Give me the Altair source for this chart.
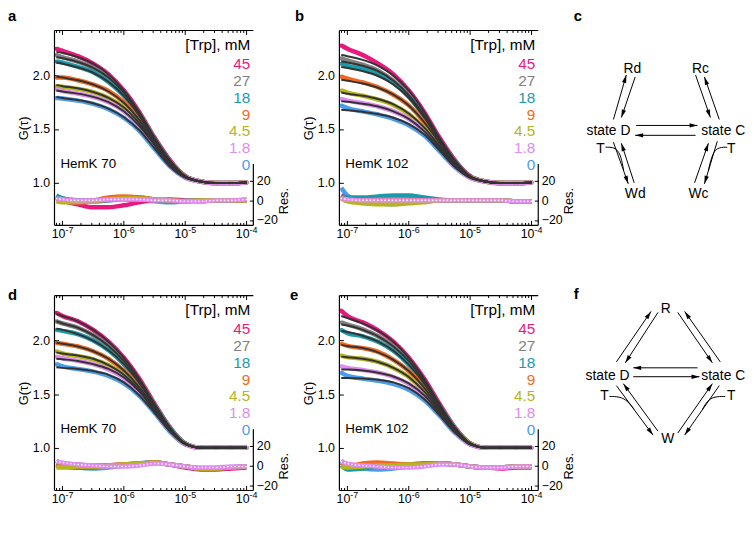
import altair as alt
import pandas as pd

FONT = "Liberation Sans"

# ---------------- data ----------------
LOG_TAU = [-7.1, -7.0, -6.75, -6.5, -6.25, -6.0, -5.75, -5.5, -5.25, -5.0, -4.75, -4.5, -4.25, -4.0]
CONC = ["45", "27", "18", "9", "4.5", "1.8", "0"]
CONC_COLORS = ["#E8197E", "#808080", "#1B9AAA", "#F26A21", "#B5B51C", "#E08BEF", "#4C9DE8"]
DRAW_ORDER = ["0", "45", "27", "18", "9", "4.5", "1.8"]
FIT_COLOR = "#333333"

MAJOR_TICKS = [1e-7, 1e-6, 1e-5, 1e-4]
MAJOR_EXP = ["-7", "-6", "-5", "-4"]
MINOR_MULT = [2, 3, 4, 5, 6, 7, 8, 9]
MINOR_DECADES = [-8, -7, -6, -5]
G_TICKS = [1.0, 1.5, 2.0]
RES_TICKS = [-20, 0, 20]

# panel a  (HemK 70)
A_FIT = {
    "45": [2.22, 2.21, 2.17, 2.11, 2.01, 1.86, 1.66, 1.42, 1.21, 1.06, 1.01, 0.995, 0.995, 1.0],
    "27": [2.17, 2.16, 2.125, 2.07, 1.98, 1.84, 1.645, 1.41, 1.20, 1.06, 1.01, 0.995, 0.995, 1.0],
    "18": [2.12, 2.11, 2.075, 2.025, 1.94, 1.81, 1.625, 1.40, 1.195, 1.055, 1.01, 0.995, 0.995, 1.0],
    "9": [1.99, 1.98, 1.955, 1.915, 1.85, 1.745, 1.585, 1.38, 1.185, 1.055, 1.01, 0.995, 0.995, 1.0],
    "4.5": [1.91, 1.90, 1.88, 1.845, 1.79, 1.70, 1.555, 1.365, 1.175, 1.05, 1.01, 0.995, 0.995, 1.0],
    "1.8": [1.86, 1.85, 1.83, 1.80, 1.75, 1.665, 1.53, 1.35, 1.165, 1.05, 1.01, 0.995, 0.995, 1.0],
    "0": [1.80, 1.79, 1.77, 1.74, 1.69, 1.61, 1.49, 1.32, 1.15, 1.045, 1.01, 0.995, 0.995, 1.0],
}
A_OBS = {
    "45": [2.25, 2.23, 2.18, 2.11, 2.01, 1.86, 1.66, 1.42, 1.21, 1.06, 1.01, 0.995, 0.995, 1.0],
    "27": [2.19, 2.17, 2.13, 2.07, 1.98, 1.84, 1.645, 1.41, 1.20, 1.06, 1.01, 0.995, 0.995, 1.0],
    "18": [2.13, 2.12, 2.08, 2.03, 1.94, 1.81, 1.63, 1.40, 1.195, 1.055, 1.01, 0.995, 0.995, 1.0],
    "9": [1.98, 1.98, 1.955, 1.915, 1.855, 1.75, 1.59, 1.385, 1.185, 1.055, 1.01, 0.995, 0.995, 1.0],
    "4.5": [1.90, 1.895, 1.875, 1.845, 1.79, 1.70, 1.555, 1.365, 1.175, 1.05, 1.01, 0.995, 0.995, 1.0],
    "1.8": [1.87, 1.855, 1.83, 1.80, 1.75, 1.665, 1.53, 1.35, 1.165, 1.05, 1.01, 0.995, 0.995, 1.0],
    "0": [1.79, 1.785, 1.765, 1.735, 1.685, 1.605, 1.485, 1.315, 1.15, 1.045, 1.01, 0.995, 0.995, 1.0],
}
A_RES = {
    "45": [3, 0, -4, -7, -7, -5, -2, 0, 1, 0, -1, 0, 0, 0],
    "27": [4, 2, 0, -1, 0, 2, 1, 0, -1, 0, 0, 0, 0, 0],
    "18": [5, 2, 0, 0, 1, 3, 3, 1, -1, -1, 0, 0, 0, 0],
    "9": [2, 0, -1, 0, 3, 4, 3, 1, 0, -1, 0, 0, 0, 0],
    "4.5": [-1, -2, -2, -1, 1, 2, 2, 1, 0, -1, 0, 0, 0, 0],
    "1.8": [2, 1, 0, 0, 1, 1, 1, 0, 0, -1, -1, 0, 0, 1],
    "0": [4, 1, -1, -1, 0, 1, 0, -1, -2, -1, 0, 0, 0, 1],
}

# panel b  (HemK 102)
B_FIT = {
    "45": [2.19, 2.18, 2.145, 2.09, 2.00, 1.86, 1.66, 1.42, 1.21, 1.06, 1.01, 0.995, 0.995, 1.0],
    "27": [2.13, 2.12, 2.09, 2.04, 1.95, 1.815, 1.625, 1.40, 1.20, 1.055, 1.01, 0.995, 0.995, 1.0],
    "18": [2.08, 2.07, 2.04, 1.995, 1.915, 1.79, 1.61, 1.39, 1.195, 1.055, 1.01, 0.995, 0.995, 1.0],
    "9": [1.96, 1.95, 1.925, 1.885, 1.82, 1.72, 1.565, 1.37, 1.18, 1.05, 1.01, 0.995, 0.995, 1.0],
    "4.5": [1.84, 1.83, 1.81, 1.78, 1.73, 1.645, 1.515, 1.34, 1.165, 1.05, 1.01, 0.995, 0.995, 1.0],
    "1.8": [1.76, 1.755, 1.735, 1.71, 1.665, 1.595, 1.48, 1.32, 1.155, 1.045, 1.01, 0.995, 0.995, 1.0],
    "0": [1.68, 1.675, 1.66, 1.64, 1.605, 1.545, 1.45, 1.30, 1.145, 1.045, 1.01, 0.995, 0.995, 1.0],
}
B_OBS = {
    "45": [2.28, 2.25, 2.19, 2.11, 2.01, 1.86, 1.66, 1.42, 1.21, 1.06, 1.01, 0.995, 0.995, 1.0],
    "27": [2.16, 2.14, 2.10, 2.045, 1.95, 1.815, 1.625, 1.40, 1.20, 1.055, 1.01, 0.995, 0.995, 1.0],
    "18": [2.11, 2.09, 2.06, 2.01, 1.93, 1.80, 1.615, 1.39, 1.195, 1.055, 1.01, 0.995, 0.995, 1.0],
    "9": [1.99, 1.97, 1.935, 1.89, 1.82, 1.72, 1.565, 1.37, 1.18, 1.05, 1.01, 0.995, 0.995, 1.0],
    "4.5": [1.86, 1.84, 1.81, 1.775, 1.725, 1.64, 1.51, 1.34, 1.165, 1.05, 1.01, 0.995, 0.995, 1.0],
    "1.8": [1.78, 1.765, 1.74, 1.71, 1.665, 1.595, 1.48, 1.32, 1.155, 1.045, 1.01, 0.995, 0.995, 1.0],
    "0": [1.72, 1.695, 1.665, 1.635, 1.595, 1.535, 1.44, 1.295, 1.145, 1.045, 1.01, 0.995, 0.995, 1.0],
}
B_RES = {
    "45": [5, 2, 0, 0, 0, 1, 0, 0, 0, 0, 0, 0, -1, -1],
    "27": [3, 1, 0, 0, 0, 0, 0, 0, 0, 0, 0, 0, -1, -1],
    "18": [4, 3, 3, 4, 5, 5, 3, 1, 0, 0, 0, 0, -1, -1],
    "9": [2, 0, 0, 1, 1, 1, 0, 0, 0, 0, 0, 0, -1, -1],
    "4.5": [3, -1, -3, -4, -4, -3, -2, 0, 0, 0, 0, 0, -1, -1],
    "1.8": [2, 1, 0, 0, 0, 0, 0, 0, 0, 0, 0, 0, -1, -1],
    "0": [13, 5, -2, -3, -4, -2, -1, 0, 0, 0, 0, 0, -1, -1],
}

# panel d  (HemK 70, model 2)
D_FIT = {
    "45": [2.25, 2.23, 2.18, 2.10, 1.99, 1.84, 1.645, 1.41, 1.19, 1.04, 1.0, 1.0, 1.0, 1.0],
    "27": [2.18, 2.16, 2.12, 2.05, 1.95, 1.81, 1.625, 1.40, 1.185, 1.04, 1.0, 1.0, 1.0, 1.0],
    "18": [2.11, 2.10, 2.06, 2.00, 1.91, 1.78, 1.605, 1.39, 1.18, 1.04, 1.0, 1.0, 1.0, 1.0],
    "9": [1.98, 1.97, 1.945, 1.90, 1.83, 1.72, 1.565, 1.37, 1.17, 1.035, 1.0, 1.0, 1.0, 1.0],
    "4.5": [1.89, 1.88, 1.86, 1.83, 1.77, 1.68, 1.54, 1.355, 1.165, 1.035, 1.0, 1.0, 1.0, 1.0],
    "1.8": [1.83, 1.825, 1.81, 1.78, 1.735, 1.655, 1.525, 1.345, 1.16, 1.035, 1.0, 1.0, 1.0, 1.0],
    "0": [1.75, 1.745, 1.735, 1.715, 1.68, 1.61, 1.49, 1.325, 1.15, 1.03, 1.0, 1.0, 1.0, 1.0],
}
D_OBS = {
    "45": [2.26, 2.23, 2.18, 2.10, 1.99, 1.84, 1.645, 1.41, 1.19, 1.04, 1.0, 1.0, 1.0, 1.0],
    "27": [2.18, 2.16, 2.12, 2.05, 1.95, 1.81, 1.625, 1.40, 1.185, 1.04, 1.0, 1.0, 1.0, 1.0],
    "18": [2.10, 2.09, 2.06, 2.00, 1.91, 1.78, 1.605, 1.39, 1.18, 1.04, 1.0, 1.0, 1.0, 1.0],
    "9": [1.98, 1.97, 1.945, 1.90, 1.83, 1.72, 1.565, 1.37, 1.17, 1.035, 1.0, 1.0, 1.0, 1.0],
    "4.5": [1.90, 1.88, 1.855, 1.825, 1.77, 1.68, 1.54, 1.355, 1.165, 1.035, 1.0, 1.0, 1.0, 1.0],
    "1.8": [1.85, 1.835, 1.81, 1.78, 1.73, 1.65, 1.52, 1.345, 1.16, 1.035, 1.0, 1.0, 1.0, 1.0],
    "0": [1.78, 1.76, 1.735, 1.71, 1.67, 1.60, 1.485, 1.325, 1.15, 1.03, 1.0, 1.0, 1.0, 1.0],
}
D_RES = {
    "45": [1, -1, -2, -2, 0, 1, 2, 3, 1, -2, -4, -4, -3, -2],
    "27": [3, 2, 1, 0, 0, 1, 2, 3, 1, -1, -3, -3, -2, -1],
    "18": [2, 0, -2, -2, -1, 0, 2, 3, 1, -1, -3, -3, -2, -1],
    "9": [0, -1, -1, -1, 0, 1, 2, 3, 1, -1, -3, -3, -2, -1],
    "4.5": [-2, -2, -1, -1, 0, 1, 2, 3, 1, -1, -3, -3, -2, -1],
    "1.8": [4, 3, 1, 0, -1, -1, 0, 2, 1, -1, -2, -2, -1, -1],
    "0": [5, 1, -2, -3, -2, 0, 2, 3, 1, -1, -3, -3, -2, -1],
}

# panel e  (HemK 102, model 2)
E_FIT = {
    "45": [2.23, 2.21, 2.16, 2.09, 1.99, 1.84, 1.645, 1.41, 1.19, 1.04, 1.0, 1.0, 1.0, 1.0],
    "27": [2.15, 2.14, 2.10, 2.04, 1.945, 1.81, 1.62, 1.395, 1.185, 1.04, 1.0, 1.0, 1.0, 1.0],
    "18": [2.09, 2.08, 2.045, 1.99, 1.905, 1.775, 1.60, 1.385, 1.18, 1.04, 1.0, 1.0, 1.0, 1.0],
    "9": [1.96, 1.95, 1.93, 1.89, 1.82, 1.715, 1.56, 1.365, 1.17, 1.035, 1.0, 1.0, 1.0, 1.0],
    "4.5": [1.85, 1.845, 1.83, 1.80, 1.745, 1.66, 1.525, 1.345, 1.16, 1.035, 1.0, 1.0, 1.0, 1.0],
    "1.8": [1.73, 1.73, 1.72, 1.70, 1.665, 1.60, 1.49, 1.325, 1.15, 1.03, 1.0, 1.0, 1.0, 1.0],
    "0": [1.65, 1.65, 1.645, 1.635, 1.61, 1.555, 1.455, 1.305, 1.14, 1.03, 1.0, 1.0, 1.0, 1.0],
}
E_OBS = {
    "45": [2.28, 2.23, 2.17, 2.095, 1.99, 1.84, 1.645, 1.41, 1.19, 1.04, 1.0, 1.0, 1.0, 1.0],
    "27": [2.17, 2.15, 2.105, 2.04, 1.945, 1.81, 1.62, 1.395, 1.185, 1.04, 1.0, 1.0, 1.0, 1.0],
    "18": [2.10, 2.07, 2.04, 1.99, 1.905, 1.775, 1.60, 1.385, 1.18, 1.04, 1.0, 1.0, 1.0, 1.0],
    "9": [1.97, 1.95, 1.93, 1.895, 1.82, 1.715, 1.56, 1.365, 1.17, 1.035, 1.0, 1.0, 1.0, 1.0],
    "4.5": [1.86, 1.845, 1.83, 1.80, 1.745, 1.66, 1.525, 1.345, 1.16, 1.035, 1.0, 1.0, 1.0, 1.0],
    "1.8": [1.76, 1.745, 1.725, 1.70, 1.66, 1.595, 1.485, 1.325, 1.15, 1.03, 1.0, 1.0, 1.0, 1.0],
    "0": [1.70, 1.67, 1.645, 1.625, 1.595, 1.54, 1.445, 1.30, 1.14, 1.03, 1.0, 1.0, 1.0, 1.0],
}
E_RES = {
    "45": [3, 1, 0, 0, 1, 1, 2, 2, 1, -1, -2, -3, -2, -2],
    "27": [2, 0, -1, 0, 1, 1, 2, 2, 1, -1, -2, -2, -1, -1],
    "18": [0, -4, -3, -1, 0, 0, 1, 2, 1, -1, -2, -2, -1, -1],
    "9": [3, -1, 2, 3, 2, 1, 1, 2, 1, -1, -2, -2, -1, -1],
    "4.5": [-1, -2, -1, 0, 0, 1, 1, 2, 1, -1, -2, -2, -1, -1],
    "1.8": [4, 2, 0, -1, -2, -2, -1, 1, 1, -1, -2, -2, -1, -1],
    "0": [5, 0, -3, -4, -3, -1, 0, 2, 1, -1, -2, -2, -1, -1],
}

# kinetic schemes (diagram units, origin at "state D")
C_NODES = [("Rd", 24, -63), ("Rc", 93, -63), ("state D", 0, 0), ("state C", 116, 0),
           ("T", -8, 18), ("T", 124, 18), ("Wd", 27, 63), ("Wc", 91, 63)]
C_ARROWS = [(5, -12, 18, -57), (27, -55, 13, -14), (88, -57, 103, -14), (112, -12, 97, -55),
            (28, -6, 90, -6), (88, 4, 27, 4), (5, 11, 20, 53), (26, 52, 13, 12),
            (87, 52, 101, 12), (110, 10, 97, 53)]
C_CURVES = [[(-3, 16), (8, 16), (13, 26), (15.4, 40)],
            [(120, 16), (109, 16), (104, 26), (100.9, 40)]]

F_NODES = [("R", 59, -67), ("state D", 0, 0), ("state C", 117, 0), ("W", 61, 64),
           ("T", -3, 21), ("T", 125, 21)]
F_ARROWS = [(9, -14, 44, -65), (51, -64, 18, -13), (71, -64, 106, -13), (114, -14, 78, -65),
            (91, -8, 26, -8), (26, 1, 93, 1), (9, 10, 46, 60), (51, 56, 16, 8),
            (71, 58, 106, 8), (113, 10, 78, 60)]
F_CURVES = [[(2, 21), (12, 21), (20, 25), (27, 34)],
            [(119, 21), (108, 21), (101, 25), (96, 34)]]

# ---------------- layout / style ----------------
W, H = 201, 197
X_DOMAIN = [10 ** -7.13, 10 ** -3.89]
G_DOMAIN = [0.6, 2.42]
R_DOMAIN = [-25.5, 173.5]
ONE = pd.DataFrame({"k": [0]})


def txt(text, x, y, size, align="left", baseline="middle", color="black", weight="normal"):
    return alt.Chart(pd.DataFrame({"t": [text]})).mark_text(
        align=align, baseline=baseline, fontSize=size, font=FONT, color=color, fontWeight=weight
    ).encode(text="t:N", x=alt.value(x), y=alt.value(y))


def fcs_panel(fit, obs, res, name, letter, letter_x, letter_y, title_y):
    rows = []
    for c in DRAW_ORDER:
        for i, lt in enumerate(LOG_TAU):
            rows.append({"conc": c, "tau": 10 ** lt, "fit": fit[c][i], "obs": obs[c][i], "res": res[c][i]})
    df = pd.DataFrame(rows)
    base = alt.Chart(df)
    xsc = alt.Scale(type="log", domain=X_DOMAIN, nice=False)
    gsc = alt.Scale(domain=G_DOMAIN, nice=False, zero=False)
    rsc = alt.Scale(domain=R_DOMAIN, nice=False, zero=False)
    color = alt.Color("conc:N", scale=alt.Scale(domain=CONC, range=CONC_COLORS), legend=None)
    x_axis = alt.Axis(title="τ, s", labels=False, ticks=False, domain=False, grid=False,
                      titleY=title_y, titleBaseline="middle", titleFont=FONT, titleFontSize=13,
                      titleFontWeight="normal", titleColor="black")
    g_axis = alt.Axis(values=G_TICKS, format=".1f", tickSize=4, offset=-4, domain=False, grid=False,
                      labelPadding=5, labelFont=FONT, labelFontSize=12.5, labelColor="black",
                      tickColor="black", title="G(τ)", titleX=-35, titleBaseline="middle",
                      titleFont=FONT, titleFontSize=13, titleFontWeight="normal", titleColor="black")
    r_axis = alt.Axis(orient="right", values=RES_TICKS, tickSize=4, offset=-4, domain=False, grid=False,
                      labelPadding=3, labelFont=FONT, labelFontSize=12.5, labelColor="black",
                      tickColor="black", title="Res.", titleX=35, titleY=172, titleAngle=270,
                      titleBaseline="middle", titleAlign="center", titleFont=FONT, titleFontSize=13,
                      titleFontWeight="normal", titleColor="black")
    xn = alt.X("tau:Q", scale=xsc, axis=None)

    obs_line = base.mark_line(strokeWidth=4.5, interpolate="monotone").encode(
        x=alt.X("tau:Q", scale=xsc, axis=x_axis), y=alt.Y("obs:Q", scale=gsc, axis=g_axis), color=color)
    obs_pts = base.mark_circle(size=16, opacity=1).encode(
        x=xn, y=alt.Y("obs:Q", scale=gsc, axis=g_axis), color=color)
    fit_line = base.mark_line(strokeWidth=2, color=FIT_COLOR, interpolate="monotone").encode(
        x=xn, y=alt.Y("fit:Q", scale=gsc, axis=g_axis), detail="conc:N")
    g_layer = alt.layer(obs_line, obs_pts, fit_line)

    res_line = base.mark_line(strokeWidth=4.5, interpolate="monotone").encode(
        x=xn, y=alt.Y("res:Q", scale=rsc, axis=r_axis), color=color)
    res_dots = base.transform_filter(alt.datum.conc == "1.8").mark_line(
        strokeWidth=1.6, color="white", strokeDash=[0.1, 3.6], strokeCap="round",
        interpolate="monotone").encode(x=xn, y=alt.Y("res:Q", scale=rsc, axis=r_axis))
    r_layer = alt.layer(res_line, res_dots)

    # frame
    frame = alt.Chart(ONE)
    left = frame.mark_rule(color="black", strokeWidth=1.2).encode(
        x=alt.value(0), y=alt.value(0), y2=alt.value(H))
    top = frame.mark_rule(color="black", strokeWidth=1.2).encode(
        x=alt.value(0), x2=alt.value(W), y=alt.value(0))
    bottom = frame.mark_rule(color="black", strokeWidth=1.2).encode(
        x=alt.value(0), x2=alt.value(W), y=alt.value(H))
    right = frame.mark_rule(color="black", strokeWidth=1.2).encode(
        x=alt.value(W), y=alt.value(135), y2=alt.value(H))

    # log ticks (inward) at top and bottom
    maj = pd.DataFrame({"tau": MAJOR_TICKS, "e": MAJOR_EXP})
    minor_vals = [m * 10.0 ** d for d in MINOR_DECADES for m in MINOR_MULT]
    minor_vals = [v for v in minor_vals if X_DOMAIN[0] < v < X_DOMAIN[1]]
    mnr = pd.DataFrame({"tau": minor_vals})
    tk_maj_b = alt.Chart(maj).mark_rule(color="black").encode(x=xn, y=alt.value(H), y2=alt.value(H - 4.5))
    tk_maj_t = alt.Chart(maj).mark_rule(color="black").encode(x=xn, y=alt.value(0), y2=alt.value(4.5))
    tk_min_b = alt.Chart(mnr).mark_rule(color="black").encode(x=xn, y=alt.value(H), y2=alt.value(H - 2.5))
    tk_min_t = alt.Chart(mnr).mark_rule(color="black").encode(x=xn, y=alt.value(0), y2=alt.value(2.5))
    lab10 = alt.Chart(maj).mark_text(align="right", baseline="top", dx=3, fontSize=12.5, font=FONT,
                                     color="black").encode(x=xn, y=alt.value(H + 3), text=alt.value("10"))
    labexp = alt.Chart(maj).mark_text(align="left", baseline="top", dx=3, fontSize=9, font=FONT,
                                      color="black").encode(x=xn, y=alt.value(H + 1), text="e:N")

    # legend
    leg = pd.DataFrame({"label": CONC, "col": CONC_COLORS, "idx": list(range(len(CONC)))})
    legend = alt.Chart(leg).transform_calculate(ly="34 + 17 * datum.idx").mark_text(
        align="right", baseline="middle", fontSize=15.5, font=FONT).encode(
        x=alt.value(W - 3), y=alt.Y("ly:Q", scale=None), text="label:N", color=alt.Color("col:N", scale=None))
    header = txt("[Trp], mM", W - 3, 15, 15.5, align="right")
    hemk = txt(name, 6, 135, 13.5)
    let = txt(letter, letter_x, letter_y, 15, baseline="top", weight="bold")

    return alt.layer(g_layer, r_layer, left, top, bottom, right, tk_maj_b, tk_maj_t, tk_min_b, tk_min_t,
                     lab10, labexp, legend, header, hemk, let).resolve_scale(y="independent").properties(
        width=W, height=H)


def scheme_panel(nodes, arrows, curves, xdom, ydom, letter, letter_y):
    xs = alt.Scale(domain=xdom, nice=False, zero=False)
    ys = alt.Scale(domain=ydom, nice=False, zero=False, reverse=True)
    nd = pd.DataFrame(nodes, columns=["label", "x", "y"])
    ar = pd.DataFrame(arrows, columns=["x", "y", "x2", "y2"])
    cv = pd.DataFrame([{"cid": i, "k": k, "x": p[0], "y": p[1]}
                       for i, c in enumerate(curves) for k, p in enumerate(c)])
    text = alt.Chart(nd).mark_text(fontSize=14, font=FONT, color="black", baseline="middle").encode(
        x=alt.X("x:Q", scale=xs, axis=None), y=alt.Y("y:Q", scale=ys, axis=None), text="label:N")
    lines = alt.Chart(ar).mark_rule(color="black", strokeWidth=1).encode(
        x=alt.X("x:Q", scale=xs, axis=None), y=alt.Y("y:Q", scale=ys, axis=None), x2="x2:Q", y2="y2:Q")
    heads = alt.Chart(ar).transform_calculate(
        ang="(atan2(datum.x2 - datum.x, -(datum.y2 - datum.y)) * 180 / PI + 360) % 360"
    ).mark_point(shape="M0,0 L0.55,2 L-0.55,2 Z", filled=True, size=64, color="black", opacity=1,
                 strokeWidth=0).encode(
        x=alt.X("x2:Q", scale=xs, axis=None), y=alt.Y("y2:Q", scale=ys, axis=None),
        angle=alt.Angle("ang:Q", scale=None))
    crv = alt.Chart(cv).mark_line(color="black", strokeWidth=1, interpolate="basis").encode(
        x=alt.X("x:Q", scale=xs, axis=None), y=alt.Y("y:Q", scale=ys, axis=None),
        detail="cid:N", order="k:Q")
    let = txt(letter, -51, letter_y, 15, baseline="top", weight="bold")
    return alt.layer(lines, heads, crv, text, let).properties(width=120, height=H)


pa = fcs_panel(A_FIT, A_OBS, A_RES, "HemK 70", "a", -47, -22, 34)
pb = fcs_panel(B_FIT, B_OBS, B_RES, "HemK 102", "b", -45, -22, 34)
pc = scheme_panel(C_NODES, C_ARROWS, C_CURVES, [16, 136], [-102, 95], "c", -22)
pd_ = fcs_panel(D_FIT, D_OBS, D_RES, "HemK 70", "d", -47, -8, 27)
pe = fcs_panel(E_FIT, E_OBS, E_RES, "HemK 102", "e", -50, -8, 27)
pf = scheme_panel(F_NODES, F_ARROWS, F_CURVES, [17, 137], [-81, 116], "f", -9)

chart = alt.concat(pa, pb, pc, pd_, pe, pf, columns=3, spacing={"row": 71, "column": 87},
                   bounds="flush", align="each",
                   padding={"left": 0, "top": -2, "right": 0, "bottom": 0}
                   ).configure(font=FONT).configure_view(stroke=None)

chart.save("out.html", embed_options={"renderer": "svg", "actions": False})
